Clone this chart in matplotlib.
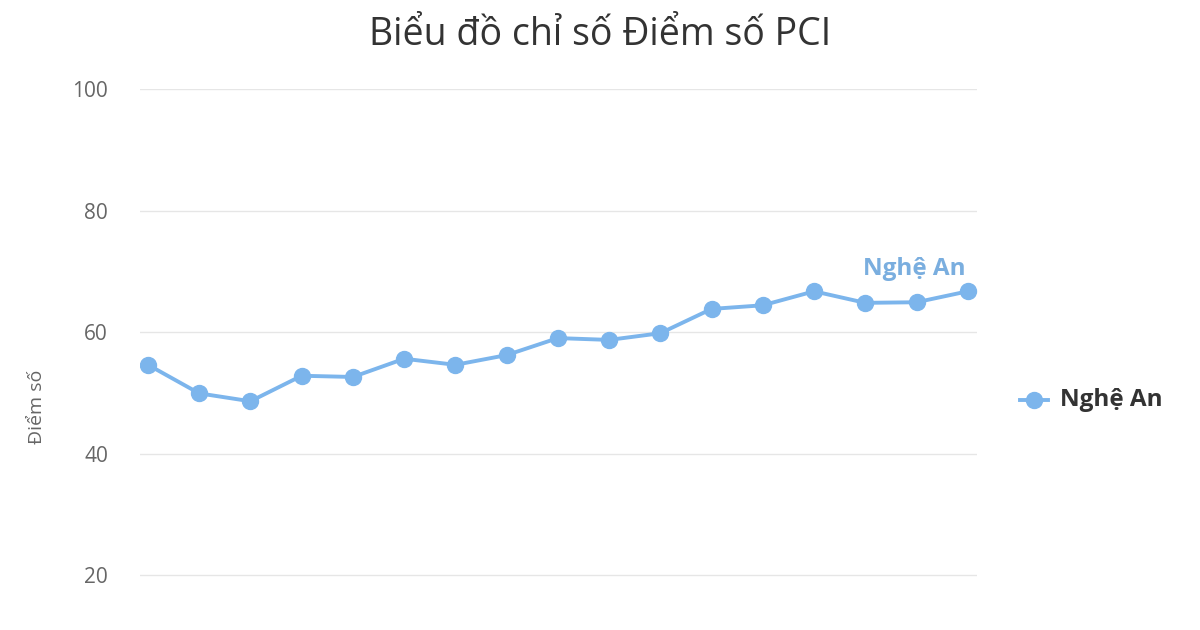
import matplotlib.pyplot as plt

# PCI score of Nghe An, one point per year (x labels are cut off in the source)
years = list(range(2006, 2023))
scores = [54.6, 49.9, 48.6, 52.8, 52.6, 55.6, 54.6, 56.2, 59.0, 58.7,
          59.8, 63.8, 64.4, 66.7, 64.8, 64.9, 66.7]
series_name = "Nghệ An"
yticks = [20, 40, 60, 80, 100]

plt.rcParams['font.family'] = ['Open Sans', 'DejaVu Sans']
blue = '#7cb5ec'

fig = plt.figure(figsize=(12, 6.3), dpi=100)
ax = fig.add_axes([140 / 1200, 0, 837 / 1200, 1 - 89 / 630])

x = list(range(len(years)))
ax.plot(x, scores, color=blue, lw=2.8, marker='o', ms=11.5, zorder=3,
        solid_capstyle='round')

ax.set_xlim(-0.156, 16.18)
ax.set_ylim(10.95, 100)
ax.set_yticks(yticks)
ax.set_xticks([])
ax.grid(axis='y', color='#e6e6e6', lw=1)
ax.set_axisbelow(True)
for s in ax.spines.values():
    s.set_visible(False)
ax.tick_params(axis='y', length=0, labelsize=15, labelcolor='#666666', pad=23)

# series label near the last points
ax.text(x[-1] - 0.05, scores[-1] + 1.7, series_name, color='#7aaedf',
        fontsize=17.5, fontweight='bold', ha='right', va='bottom')

fig.text(0.5, 1 - 35 / 630, "Biểu đồ chỉ số Điểm số PCI", ha='center', va='center',
         fontsize=27, color='#333333')
fig.text(37 / 1200, 1 - 407 / 630, "Điểm số", rotation=90, ha='center', va='center',
         fontsize=14, color='#666666')

# legend drawn by hand on the right
fig.lines.append(plt.Line2D([1020 / 1200, 1048 / 1200], [1 - 400 / 630] * 2,
                            transform=fig.transFigure, color=blue, lw=2.8))
fig.lines.append(plt.Line2D([1034 / 1200], [1 - 400 / 630], transform=fig.transFigure,
                            color=blue, marker='o', ms=11.5, lw=0))
fig.text(1060 / 1200, 1 - 400 / 630, series_name, ha='left', va='center',
         fontsize=17.5, fontweight='bold', color='#333333')

fig.savefig('out.png', dpi=100, facecolor='white')
